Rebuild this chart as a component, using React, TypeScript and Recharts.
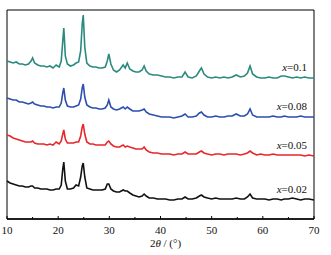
import { Line, LineChart, ReferenceArea, XAxis, YAxis } from "recharts";

// 2θ positions (degrees) shared by all four patterns
const ANGLES = [
  10, 10.6, 11.2, 11.8, 12.4, 13, 13.6, 14.2, 14.7, 15, 15.4, 16, 16.6, 17.2, 17.8, 18.4, 19, 19.6, 20.2, 20.6,
  20.9, 21.1, 21.4, 21.8, 22.4, 23, 23.5, 24, 24.4, 24.7, 24.9, 25.2, 25.6, 26.2, 26.8, 27.4, 28, 28.6, 29.2, 29.6,
  29.9, 30.3, 30.8, 31.4, 32, 32.7, 33.1, 33.5, 34, 34.6, 35.2, 35.8, 36.4, 36.8, 37.2, 37.8, 38.6, 39.4, 40.2, 41,
  41.8, 42.6, 43.4, 44.2, 44.8, 45.4, 46.2, 47, 47.6, 48, 48.5, 49.2, 50, 50.8, 51.6, 52.4, 53.2, 54, 54.8, 55.6,
  56.4, 57, 57.5, 58, 58.8, 59.6, 60.4, 61.2, 62, 62.8, 63.6, 64.2, 65, 65.8, 66.6, 67.4, 68.2, 69, 70,
];

// intensities (a.u., stacked offsets included)
const X_010 = [
  158, 157, 156, 157, 155, 155, 154, 155, 158, 161, 156, 154, 153, 153, 152, 153, 151, 154, 152, 158,
  178, 191, 163, 155, 153, 154, 156, 157, 168, 195, 204, 172, 156, 153, 152, 152, 151, 151, 152, 158,
  165, 155, 149, 147, 149, 154, 151, 156, 150, 148, 147, 147, 149, 153, 148, 145, 144, 144, 143, 142,
  142, 141, 142, 142, 147, 142, 141, 143, 148, 151, 145, 142, 141, 142, 141, 142, 141, 142, 144, 142,
  143, 146, 153, 145, 142, 141, 141, 142, 141, 141, 143, 143, 142, 141, 142, 141, 142, 141, 141,
];

const X_008 = [
  121, 120, 119, 119, 117, 117, 116, 115, 116, 117, 115, 114, 113, 113, 112, 112, 111, 112, 112, 116,
  126, 131, 119, 113, 112, 112, 113, 114, 120, 131, 135, 122, 114, 112, 111, 111, 110, 110, 111, 114,
  119, 112, 110, 109, 110, 112, 110, 112, 110, 108, 108, 108, 109, 110, 107, 105, 104, 103, 102, 102,
  102, 101, 102, 103, 105, 102, 102, 103, 106, 107, 104, 102, 102, 103, 102, 102, 103, 103, 105, 103,
  103, 105, 110, 104, 102, 102, 102, 102, 103, 102, 102, 103, 102, 102, 102, 103, 102, 102, 102,
];

const X_005 = [
  84, 83, 81, 80, 79, 78, 77, 77, 77, 78, 76, 75, 75, 75, 74, 75, 74, 77, 75, 78,
  85, 89, 80, 76, 76, 76, 77, 77, 83, 92, 95, 85, 77, 75, 75, 74, 74, 74, 74, 77,
  78, 75, 73, 72, 72, 74, 72, 73, 72, 71, 70, 70, 70, 72, 69, 67, 66, 66, 65, 65,
  65, 64, 65, 65, 67, 65, 65, 65, 67, 68, 66, 65, 64, 65, 65, 64, 65, 65, 65, 64,
  65, 66, 68, 66, 64, 65, 64, 64, 65, 64, 64, 64, 64, 64, 64, 64, 63, 64, 63,
];

const X_002 = [
  38, 36, 35, 34, 33, 33, 32, 32, 33, 33, 31, 31, 30, 30, 30, 29, 29, 30, 30, 34,
  50, 57, 38, 30, 30, 31, 34, 33, 42, 53, 56, 42, 31, 30, 29, 29, 29, 29, 30, 35,
  35, 30, 28, 27, 27, 29, 28, 28, 26, 24, 23, 22, 23, 25, 23, 21, 21, 20, 20, 20,
  19, 19, 20, 20, 22, 20, 20, 21, 23, 24, 22, 21, 20, 21, 20, 20, 20, 20, 21, 20,
  20, 22, 25, 21, 20, 20, 20, 19, 20, 20, 19, 20, 20, 21, 20, 19, 20, 20, 19,
];

const X_TICKS = [10, 15, 20, 25, 30, 35, 40, 45, 50, 55, 60, 65, 70];

const SERIES = [
  { key: "x010", name: "0.1", color: "#2a8a7e" },
  { key: "x008", name: "0.08", color: "#2c4fae" },
  { key: "x005", name: "0.05", color: "#e8262a" },
  { key: "x002", name: "0.02", color: "#111111" },
];

const data = ANGLES.map((angle, i) => ({
  angle,
  x010: X_010[i],
  x008: X_008[i],
  x005: X_005[i],
  x002: X_002[i],
}));

const FONT = "'Liberation Serif', 'Times New Roman', serif";

function AngleTick(props: any) {
  const { x, y, payload } = props;
  const major = payload.value % 10 === 0;
  return (
    <g>
      <line x1={x} x2={x} y1={y} y2={y - (major ? 3 : 2)} stroke="#000" strokeWidth={1} />
      {major && (
        <text x={x} y={y + 15} textAnchor="middle" fontSize={11} fontFamily={FONT} fill="#111">
          {payload.value}
        </text>
      )}
    </g>
  );
}

function AxisTitle(props: any) {
  const { x, y, width } = props.viewBox;
  return (
    <text x={x + width / 2 + 5} y={y + 28} textAnchor="middle" fontSize={11} fontFamily={FONT} fill="#111">
      2<tspan fontStyle="italic">θ</tspan> / (°)
    </text>
  );
}

function seriesLabel(name: string) {
  return (props: any) => {
    const { x, y, index } = props;
    if (index !== ANGLES.length - 1) return null;
    return (
      <text key={name} x={x - 7} y={y - 7} textAnchor="end" fontSize={11} fontFamily={FONT} fill="#111">
        <tspan fontStyle="italic">x</tspan>=
        {name}
      </text>
    );
  };
}

export default function App() {
  return (
    <div style={{ position: "absolute", left: 0, top: 0, background: "#fff" }}>
      <LineChart width={331} height={255} data={data} margin={{ top: 10, right: 17, left: 7, bottom: 0 }}>
        <XAxis
          dataKey="angle"
          type="number"
          domain={[10, 70]}
          ticks={X_TICKS}
          interval={0}
          tickLine={false}
          tickSize={0}
          tickMargin={0}
          height={36}
          stroke="#000"
          axisLine={{ stroke: "#000", strokeWidth: 1.3 }}
          tick={<AngleTick />}
          label={{ content: AxisTitle }}
        />
        <YAxis hide domain={[0, 209]} />
        <ReferenceArea x1={10} x2={70} y1={0} y2={209} fill="none" stroke="#000" strokeWidth={1} />
        {SERIES.map((s) => (
          <Line
            key={s.key}
            type="linear"
            dataKey={s.key}
            stroke={s.color}
            strokeWidth={1.6}
            dot={false}
            isAnimationActive={false}
            label={seriesLabel(s.name)}
          />
        ))}
      </LineChart>
    </div>
  );
}
